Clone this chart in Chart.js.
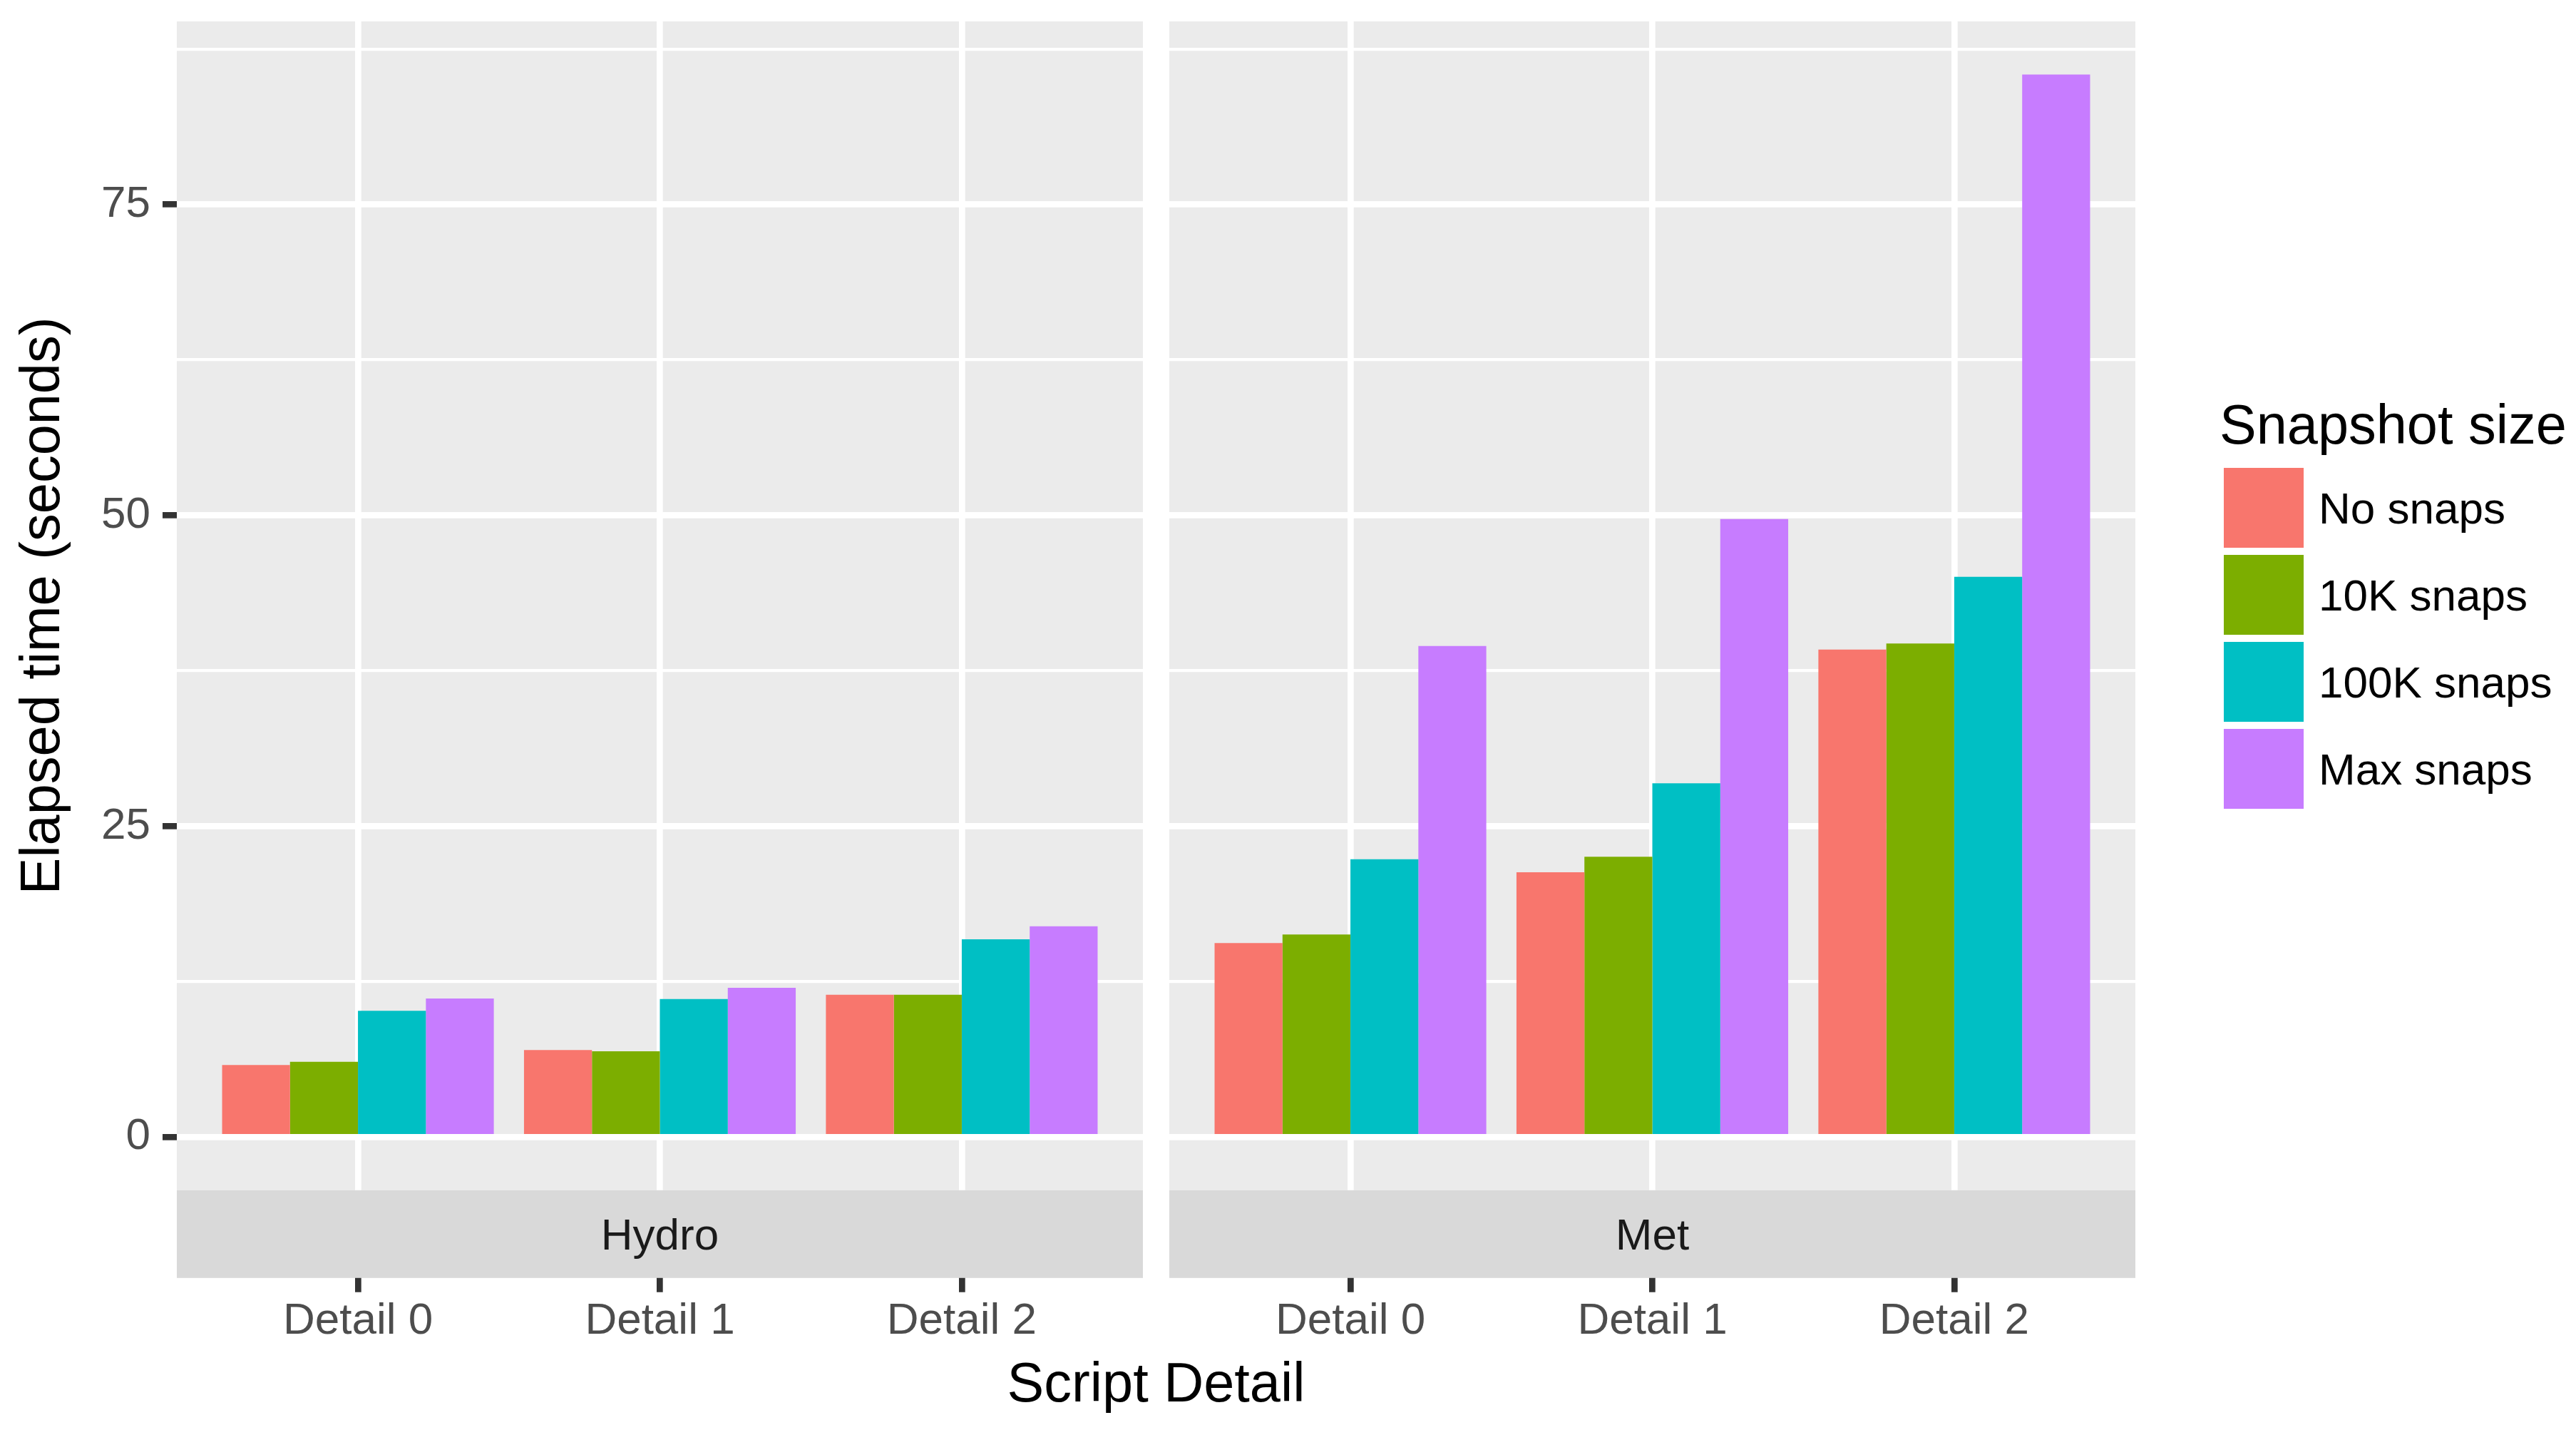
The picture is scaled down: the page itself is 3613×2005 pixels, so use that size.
<!DOCTYPE html>
<html>
<head>
<meta charset="utf-8">
<script src="https://cdn.jsdelivr.net/npm/chart.js@4"></script>
<style>
  body { margin: 0; background: #fff; width: 3613px; height: 2005px; overflow: hidden;
         font-family: "Liberation Sans", Arial, sans-serif; }
  .box { position: absolute; }
  .txt { position: absolute; line-height: 1; white-space: nowrap; color: #000; }
</style>
</head>
<body>
<div class="box" style="left:0;top:0;width:1603px;height:1900px"><canvas id="hydro"></canvas></div>
<div class="box" style="left:1640px;top:0;width:1355px;height:1900px"><canvas id="met"></canvas></div>
<div class="txt" style="left:0;width:3243px;top:1900px;text-align:center;font-size:77.5px">Script Detail</div>
<div id="legend"></div>

<script>
// categories and series
const categories = ['Detail 0', 'Detail 1', 'Detail 2']
const seriesNames = ['No snaps', '10K snaps', '100K snaps', 'Max snaps']
const seriesColors = ['#F8766D', '#7CAE00', '#00BFC4', '#C77CFF']

// Hydro panel (seconds)
const hydroNoSnaps = [5.8, 7.0, 11.45]
const hydro10K = [6.05, 6.9, 11.45]
const hydro100K = [10.15, 11.1, 15.9]
const hydroMax = [11.15, 12.0, 16.95]

// Met panel (seconds)
const metNoSnaps = [15.6, 21.3, 39.2]
const met10K = [16.3, 22.55, 39.7]
const met100K = [22.35, 28.45, 45.05]
const metMax = [39.5, 49.7, 85.45]

// y axis
const yMajorTicks = [0, 25, 50, 75]
const yMinorTicks = [12.5, 37.5, 62.5, 87.5]
const yRange = [-4.27, 89.72]

const FONT = '"Liberation Sans", Arial, sans-serif'

// grey panel behind the bars and the facet strip under it
const panelPlugin = {
    id: 'panel',
    beforeDraw(chart) {
        const a = chart.chartArea
        const ctx = chart.ctx
        ctx.save()
        ctx.fillStyle = '#EBEBEB'
        ctx.fillRect(a.left, a.top, a.right - a.left, a.bottom - a.top)
        ctx.restore()
    },
    afterDraw(chart, args, opts) {
        const a = chart.chartArea
        const ctx = chart.ctx
        ctx.save()
        ctx.fillStyle = '#D9D9D9'
        ctx.fillRect(a.left, a.bottom, a.right - a.left, 123)
        ctx.fillStyle = '#1A1A1A'
        ctx.font = '62px ' + FONT
        ctx.textAlign = 'center'
        ctx.textBaseline = 'middle'
        ctx.fillText(opts.label, (a.left + a.right) / 2, a.bottom + 66)
        ctx.restore()
    }
}

function isMajor(ctx) {
    return ctx.tick && yMajorTicks.includes(ctx.tick.value)
}

function makeChart(id, label, series, showY) {
    let datasets = series.map((vals, i) => ({
        label: seriesNames[i],
        backgroundColor: seriesColors[i],
        borderWidth: 0,
        categoryPercentage: 0.9,
        barPercentage: 1,
        data: vals.map((v, j) => ({ x: j, y: v }))
    }))

    return new Chart(document.getElementById(id), {
        type: 'bar',
        data: { datasets: datasets },
        options: {
            responsive: true,
            maintainAspectRatio: false,
            animation: false,
            layout: { padding: { top: 30, left: 0, right: 0, bottom: 0 } },
            plugins: {
                legend: { display: false },
                tooltip: { enabled: false },
                panel: { label: label }
            },
            scales: {
                x: {
                    type: 'linear',
                    min: -0.6,
                    max: 2.6,
                    offset: false,
                    afterBuildTicks: s => { s.ticks = categories.map((c, i) => ({ value: i })) },
                    afterFit: s => {
                        s.height = 231.2
                        s.paddingLeft = 0
                        s.paddingRight = 0
                    },
                    border: { display: false },
                    grid: {
                        offset: false,
                        color: '#FFFFFF',
                        lineWidth: 8.7,
                        tickLength: 143,
                        tickColor: '#333333',
                        tickWidth: 8.7
                    },
                    ticks: {
                        callback: v => categories[v],
                        autoSkip: false,
                        maxRotation: 0,
                        padding: 4,
                        color: '#4D4D4D',
                        font: { family: FONT, size: 62 }
                    }
                },
                y: {
                    min: yRange[0],
                    max: yRange[1],
                    afterBuildTicks: s => {
                        s.ticks = yMajorTicks.concat(yMinorTicks).sort((a, b) => a - b).map(v => ({ value: v }))
                    },
                    afterFit: s => {
                        s.width = showY ? 248 : 0
                        s.paddingTop = 0
                        s.paddingBottom = 0
                    },
                    border: { display: false },
                    grid: {
                        color: '#FFFFFF',
                        lineWidth: c => isMajor(c) ? 8.7 : 4.35,
                        drawTicks: showY,
                        tickLength: 20,
                        tickColor: c => isMajor(c) ? '#333333' : 'rgba(0,0,0,0)',
                        tickWidth: 8.7
                    },
                    ticks: {
                        display: showY,
                        autoSkip: false,
                        callback: v => yMajorTicks.includes(v) ? String(v) : '',
                        padding: 17,
                        color: '#4D4D4D',
                        font: { family: FONT, size: 62 }
                    },
                    title: {
                        display: showY,
                        text: 'Elapsed time (seconds)',
                        color: '#000000',
                        font: { family: FONT, size: 77.5 },
                        padding: { top: 15.5, bottom: 0 }
                    }
                }
            }
        },
        plugins: [panelPlugin]
    })
}

makeChart('hydro', 'Hydro', [hydroNoSnaps, hydro10K, hydro100K, hydroMax], true)
makeChart('met', 'Met', [metNoSnaps, met10K, met100K, metMax], false)

// legend
let legendHtml = '<div class="txt" style="left:3113px;top:557px;font-size:77.5px">Snapshot size</div>'
seriesNames.forEach((name, i) => {
    let top = 656 + i * 122
    legendHtml += '<div style="position:absolute;left:3119px;top:' + top + 'px;width:112px;height:112px;background:' + seriesColors[i] + '"></div>'
    legendHtml += '<div class="txt" style="left:3252px;top:' + (top + 56 - 30.3) + 'px;font-size:62px">' + name + '</div>'
})
document.getElementById('legend').innerHTML = legendHtml
</script>
</body>
</html>
